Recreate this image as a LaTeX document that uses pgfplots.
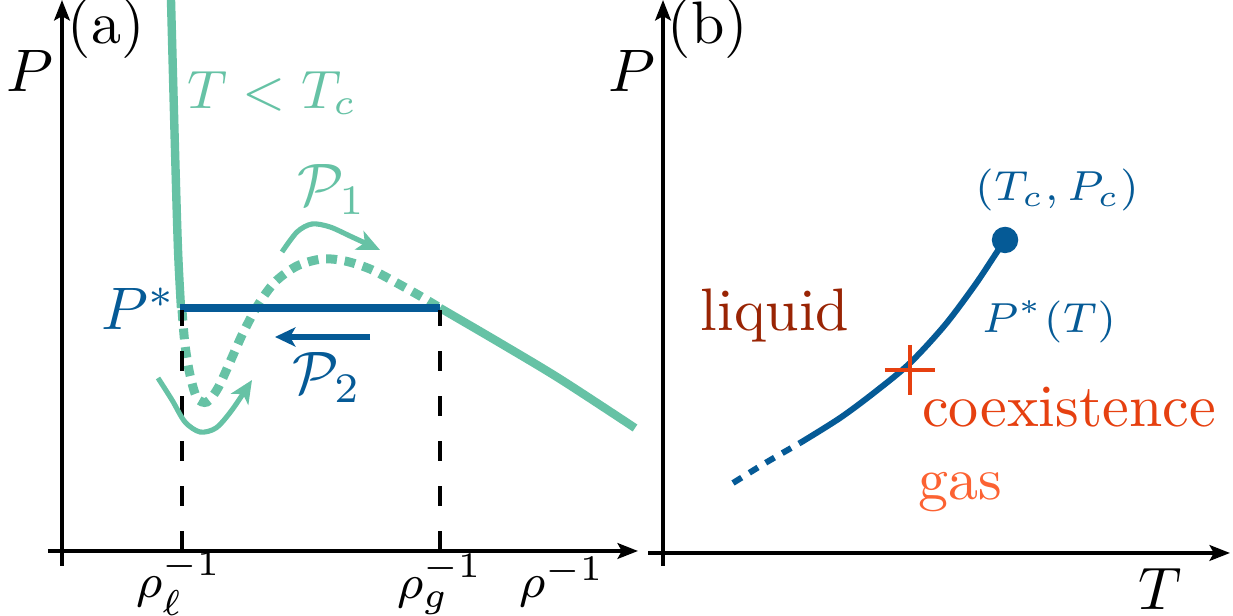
\documentclass[border=0pt]{standalone}
\usepackage{pgfplots}
\pgfplotsset{compat=1.18}
\usetikzlibrary{arrows.meta}
\definecolor{cgreen}{RGB}{102,194,165}
\definecolor{cblue}{RGB}{5,90,150}
\definecolor{cliquid}{RGB}{153,36,4}
\definecolor{ccoex}{RGB}{230,64,16}
\definecolor{cgas}{RGB}{252,98,50}
\begin{document}
\begin{tikzpicture}
\useasboundingbox (-10.3333pt,-10.8333pt) rectangle (195.1667pt,91.8333pt);
\pgfplotsset{
  panel/.style={
    x=0.166667pt, y=0.166667pt,
    axis lines=middle,
    enlargelimits=false,
    xtick=\empty, ytick=\empty,
    clip=false,
    axis line style={line width=0.65pt, -{Stealth[length=3.4pt,width=2.6pt,inset=0.7pt]}},
    anchor=origin,
  }
}
% ---------------- panel (a)
\begin{axis}[panel, at={(0pt,0pt)}, xmin=-14, xmax=576, ymin=-15, ymax=551]
% steep liquid branch
\addplot[cgreen, line width=1.4pt, smooth] coordinates {(109,551) (113,401) (116,301) (119,243)};
% gas branch
\addplot[cgreen, line width=1.4pt, smooth] coordinates {(378,243) (438,208) (498,172) (573,123)};
% van der Waals loop (dashed)
\addplot[cgreen, line width=1.5pt, smooth, dash pattern=on 1.8pt off 1.3pt] coordinates {
 (120,241) (123,206) (128,176) (135,153) (145,149) (156,163) (168,189) (181,218) (196,246)
 (213,269) (235,285) (260,292) (283,290) (308,282) (333,269) (358,255) (378,243)};
% P* plateau
\addplot[cblue, line width=1.2pt] coordinates {(118,243) (378,243)};
% dashed verticals
\addplot[black, line width=0.6pt, dash pattern=on 3.33pt off 4.17pt] coordinates {(120,0) (120,241)};
\addplot[black, line width=0.6pt, dash pattern=on 3.33pt off 4.17pt] coordinates {(378,0) (378,241)};
% arrow P1
\addplot[cgreen, line width=0.85pt, smooth, -{Stealth[length=3.8pt,width=3.4pt,inset=1pt]}] coordinates {
 (220,299) (235,319) (250,327) (268,324) (290,314) (318,301)};
% lower arrow
\addplot[cgreen, line width=0.85pt, smooth, -{Stealth[length=3.8pt,width=3.4pt,inset=1pt]}] coordinates {
 (96,173) (110,151) (123,129) (138,119) (154,123) (170,141) (190,171)};
% arrow P2
\addplot[cblue, line width=0.9pt, -{Stealth[length=3.4pt,width=3.2pt,inset=0.9pt]}] coordinates {(308,214) (213,214)};
% labels
\node at (axis cs:44,522) {(a)};
\node at (axis cs:-32,480) {$P$};
\node[text=cgreen, font=\small] at (axis cs:210,458) {$T<T_c$};
\node[text=cgreen] at (axis cs:270,361) {$\mathcal{P}_1$};
\node[text=cblue] at (axis cs:77,242) {$P^*$};
\node[text=cblue] at (axis cs:265,173) {$\mathcal{P}_2$};
\node[font=\footnotesize] at (axis cs:117,-33) {$\rho_\ell^{-1}$};
\node[font=\footnotesize] at (axis cs:378,-33) {$\rho_g^{-1}$};
\node[font=\footnotesize] at (axis cs:500,-31) {$\rho^{-1}$};
\end{axis}
% ---------------- panel (b)
\begin{axis}[panel, at={(100.1667pt,-0.3333pt)}, xmin=-15, xmax=567, ymin=-13, ymax=553]
\addplot[cblue, line width=1pt, smooth, dash pattern=on 1.7pt off 1.5pt] coordinates {(70,70) (104,91) (137,110)};
\addplot[cblue, line width=1pt, smooth] coordinates {
 (137,110) (177,135) (212,161) (247,190) (282,228) (312,268) (332,298) (342,313)};
\addplot[cblue, only marks, mark=*, mark size=2pt] coordinates {(342,313)};
\addplot[ccoex, only marks, mark=+, mark size=4.2pt, mark options={line width=0.7pt}] coordinates {(247,183)};
\node at (axis cs:45,524) {(b)};
\node at (axis cs:-31,482) {$P$};
\node at (axis cs:497,-36) {$T$};
\node[text=cblue, font=\fontsize{7.5}{9}\selectfont] at (axis cs:394,363) {$(T_c,P_c)$};
\node[text=cblue, font=\fontsize{7.5}{9}\selectfont] at (axis cs:386,231) {$P^*(T)$};
\node[text=cliquid] at (axis cs:112,237) {liquid};
\node[text=ccoex] at (axis cs:406,146) {coexistence};
\node[text=cgas] at (axis cs:297,61) {gas};
\end{axis}
\end{tikzpicture}
\end{document}
